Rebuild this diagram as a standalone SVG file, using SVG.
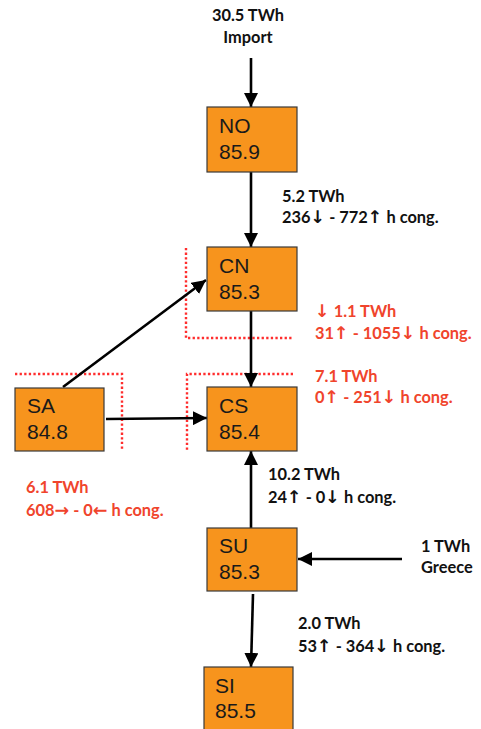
<svg xmlns="http://www.w3.org/2000/svg" width="481" height="729" viewBox="0 0 481 729">
<defs>
<marker id="ah" viewBox="0 0 10 10" refX="10" refY="5" markerWidth="5.4" markerHeight="5.4" markerUnits="strokeWidth" orient="auto">
<path d="M0,0 L10,5 L0,10 z" fill="#000"/>
</marker>
<style>
.box{fill:#F7941D;stroke:#3a3a3a;stroke-width:1.2}
.nl{font-family:"Liberation Sans",Arial,sans-serif;font-size:21px;fill:#1a1a1a}
.lb{font-family:Lato,"Open Sans",sans-serif;font-weight:bold;font-size:16.4px;fill:#111}
.ar{font-family:"DejaVu Sans",sans-serif;font-weight:bold;font-size:17.5px}
.rd{fill:#F0442C}
.cn{stroke:#000;stroke-width:2.6;fill:none;marker-end:url(#ah)}
.dot{stroke:#FF2D2D;stroke-width:2.4;fill:none;stroke-dasharray:2.3 2.3}
</style>
</defs>
<rect width="481" height="729" fill="#fff"/>
<g id="borders">
<path class="dot" d="M186,248 V338 H293"/>
<path class="dot" d="M293,374 H187 V450"/>
<path class="dot" d="M15,374 H122 V450"/>
</g>
<g id="connectors">
<line class="cn" x1="251" y1="58" x2="251" y2="107"/>
<line class="cn" x1="251" y1="172" x2="251" y2="247"/>
<line class="cn" x1="251" y1="311" x2="251" y2="387"/>
<line class="cn" x1="63" y1="387" x2="206" y2="280"/>
<line class="cn" x1="106" y1="419" x2="207" y2="418"/>
<line class="cn" x1="251" y1="528" x2="251" y2="451"/>
<line class="cn" x1="402" y1="559" x2="298" y2="559"/>
<line class="cn" x1="253" y1="594" x2="251" y2="667"/>
</g>
<g id="NO"><rect class="box" x="207" y="107" width="90" height="65"/><text class="nl" x="219" y="133">NO</text><text class="nl" x="219" y="159">85.9</text></g>
<g id="CN"><rect class="box" x="207" y="247" width="90" height="64"/><text class="nl" x="219" y="273">CN</text><text class="nl" x="219" y="299">85.3</text></g>
<g id="CS"><rect class="box" x="207" y="387" width="90" height="64"/><text class="nl" x="219" y="413">CS</text><text class="nl" x="219" y="439">85.4</text></g>
<g id="SA"><rect class="box" x="15" y="388" width="89" height="63"/><text class="nl" x="27" y="413">SA</text><text class="nl" x="27" y="439">84.8</text></g>
<g id="SU"><rect class="box" x="207" y="528" width="90" height="63"/><text class="nl" x="219" y="553">SU</text><text class="nl" x="219" y="579">85.3</text></g>
<g id="SI"><rect class="box" x="204" y="667" width="89" height="70"/><text class="nl" x="215" y="693">SI</text><text class="nl" x="215" y="718">85.5</text></g>
<g id="labels">
<text class="lb" x="248" y="21" text-anchor="middle">30.5 TWh</text>
<text class="lb" x="248" y="43" text-anchor="middle">Import</text>
<text class="lb" x="282" y="202">5.2 TWh</text>
<text class="lb" x="282" y="223">236<tspan class="ar">↓</tspan> - 772<tspan class="ar">↑</tspan> h cong.</text>
<text class="lb rd" x="315" y="317"><tspan class="ar">↓</tspan> 1.1 TWh</text>
<text class="lb rd" x="315" y="339">31<tspan class="ar">↑</tspan> - 1055<tspan class="ar">↓</tspan> h cong.</text>
<text class="lb rd" x="315" y="382">7.1 TWh</text>
<text class="lb rd" x="315" y="403">0<tspan class="ar">↑</tspan> - 251<tspan class="ar">↓</tspan> h cong.</text>
<text class="lb rd" x="26" y="493">6.1 TWh</text>
<text class="lb rd" x="26" y="516">608<tspan class="ar">→</tspan> - 0<tspan class="ar">←</tspan> h cong.</text>
<text class="lb" x="268" y="480">10.2 TWh</text>
<text class="lb" x="268" y="503">24<tspan class="ar">↑</tspan> - 0<tspan class="ar">↓</tspan> h cong.</text>
<text class="lb" x="421" y="552">1 TWh</text>
<text class="lb" x="421" y="573">Greece</text>
<text class="lb" x="298" y="629">2.0 TWh</text>
<text class="lb" x="298" y="652">53<tspan class="ar">↑</tspan> - 364<tspan class="ar">↓</tspan> h cong.</text>
</g>
</svg>
